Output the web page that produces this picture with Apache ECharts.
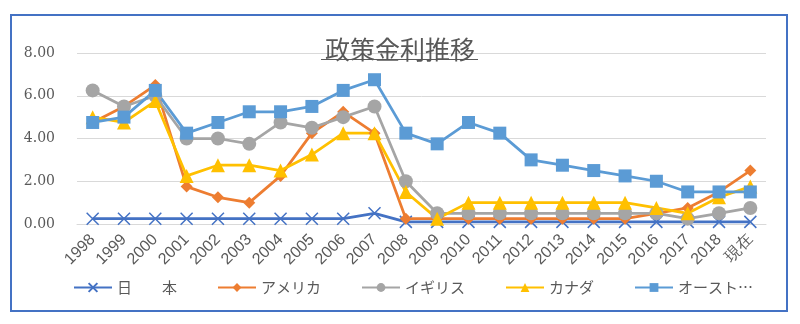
<!DOCTYPE html>
<html>
<head>
<meta charset="utf-8">
<script src="https://cdn.jsdelivr.net/npm/echarts@6/dist/echarts.min.js"></script>
<style>
  html, body { margin: 0; padding: 0; background: #fff; }
  #chart { width: 800px; height: 324px; }
</style>
</head>
<body>
<div id="chart"></div>
<script>
// 年ごとの政策金利（%）
const years = ['1998','1999','2000','2001','2002','2003','2004','2005','2006','2007','2008',
               '2009','2010','2011','2012','2013','2014','2015','2016','2017','2018','現在'];
const japan     = [0.25,0.25,0.25,0.25,0.25,0.25,0.25,0.25,0.25,0.5,0.1,0.1,0.1,0.1,0.1,0.1,0.1,0.1,0.1,0.1,0.1,0.1];
const usa       = [4.75,5.5,6.5,1.75,1.25,1.0,2.25,4.25,5.25,4.25,0.25,0.25,0.25,0.25,0.25,0.25,0.25,0.25,0.5,0.75,1.5,2.5];
const uk        = [6.25,5.5,6.0,4.0,4.0,3.75,4.75,4.5,5.0,5.5,2.0,0.5,0.5,0.5,0.5,0.5,0.5,0.5,0.5,0.25,0.5,0.75];
const canada    = [5.0,4.75,5.75,2.25,2.75,2.75,2.5,3.25,4.25,4.25,1.5,0.25,1.0,1.0,1.0,1.0,1.0,1.0,0.75,0.5,1.25,1.75];
const australia = [4.75,5.0,6.25,4.25,4.75,5.25,5.25,5.5,6.25,6.75,4.25,3.75,4.75,4.25,3.0,2.75,2.5,2.25,2.0,1.5,1.5,1.5];
const yTicks = { min: 0, max: 8, interval: 2 };

const seriesDefs = [
  { name: '日　　本',       data: japan,     color: '#4472C4', symbol: 'path://M0,0L10,10M10,0L0,10', size: 12 },
  { name: 'アメリカ',       data: usa,       color: '#ED7D31', symbol: 'diamond',  size: 12 },
  { name: 'イギリス',       data: uk,        color: '#A5A5A5', symbol: 'circle',   size: 14 },
  { name: 'カナダ',         data: canada,    color: '#FFC000', symbol: 'triangle', size: 14 },
  { name: 'オーストラリア', data: australia, color: '#5B9BD5', symbol: 'rect',     size: 13 }
];

const chart = echarts.init(document.getElementById('chart'), null, { renderer: 'canvas' });

const series = seriesDefs.map(s => {
  const isCross = s.symbol.startsWith('path://');
  return {
    name: s.name,
    type: 'line',
    data: s.data,
    symbol: s.symbol,
    symbolSize: s.size,
    showAllSymbol: true,
    lineStyle: { color: s.color, width: 2.75 },
    itemStyle: isCross
      ? { color: 'none', borderColor: s.color, borderWidth: 1.5 }
      : { color: s.color, borderColor: s.color, borderWidth: 0 },
    emphasis: { disabled: true },
    z: 2
  };
});

chart.setOption({
  animation: false,
  backgroundColor: '#ffffff',
  color: seriesDefs.map(s => s.color),
  title: {
    text: '政策金利推移',
    left: 'center',
    top: 32,
    textStyle: {
      fontFamily: 'Noto Sans CJK JP',
      fontSize: 25,
      fontWeight: 'normal',
      color: '#595959'
    }
  },
  graphic: [
    {
      type: 'rect',
      shape: { x: 11, y: 15, width: 776, height: 296 },
      style: { fill: 'none', stroke: '#4472C4', lineWidth: 2 },
      silent: true
    },
    {
      type: 'line',
      shape: { x1: 321, y1: 59.5, x2: 478, y2: 59.5 },
      style: { stroke: '#595959', lineWidth: 1.2 },
      silent: true
    }
  ],
  grid: { left: 77, right: 34, top: 53, bottom: 100 },
  xAxis: {
    type: 'category',
    data: years,
    boundaryGap: true,
    axisLine: { show: true, lineStyle: { color: '#D9D9D9', width: 1 } },
    axisTick: { show: false },
    axisLabel: {
      rotate: 45,
      interval: 0,
      margin: 13,
      color: '#595959',
      fontFamily: '"Liberation Sans", sans-serif',
      fontSize: 16
    }
  },
  yAxis: {
    type: 'value',
    min: yTicks.min,
    max: yTicks.max,
    interval: yTicks.interval,
    axisLine: { show: false },
    axisTick: { show: false },
    splitLine: { lineStyle: { color: '#D9D9D9', width: 1 } },
    axisLabel: {
      formatter: v => v.toFixed(2),
      color: '#595959',
      fontFamily: '"DejaVu Serif", "Liberation Serif", serif',
      fontSize: 14,
      margin: 22
    }
  },
  legend: {
    left: 68,
    top: 275,
    itemWidth: 38,
    itemHeight: 11,
    itemGap: 40,
    textStyle: {
      fontFamily: 'Noto Sans CJK JP',
      fontSize: 15,
      color: '#595959',
      width: 80,
      overflow: 'truncate',
      ellipsis: '…'
    },
    data: seriesDefs.map(s => s.name)
  },
  series: series
});
</script>
</body>
</html>
